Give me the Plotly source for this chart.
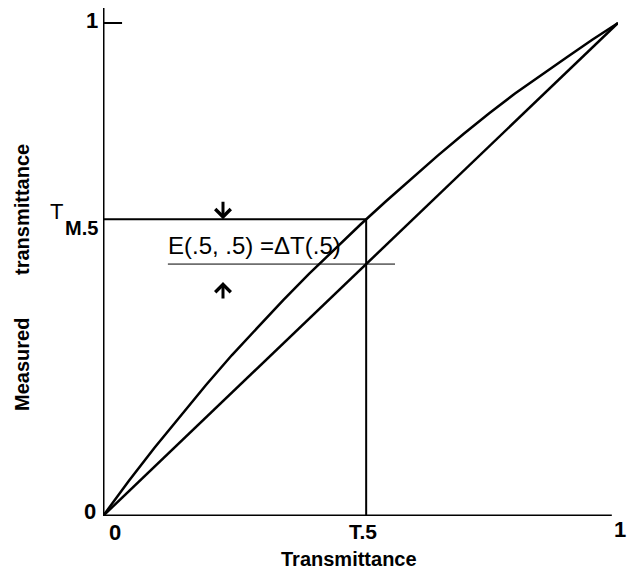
import plotly.graph_objects as go

# Data
transmittance = [0.0, 0.05, 0.1, 0.15, 0.2, 0.25, 0.3, 0.35, 0.4, 0.45, 0.5,
                 0.55, 0.6, 0.65, 0.7, 0.75, 0.8, 0.85, 0.9, 0.95, 1.0]
measured = [0.0, 0.071, 0.1385, 0.203, 0.2657, 0.326, 0.3828, 0.438, 0.491, 0.542, 0.5913,
            0.639, 0.686, 0.731, 0.775, 0.817, 0.857, 0.894, 0.930, 0.966, 1.0]
diag_x = [0.0, 1.0]
diag_y = [0.0, 1.0]
t_mark = 0.511          # position of T.5 marker
tm_mark = 0.602         # measured transmittance at T.5
true_mark = 0.511       # diagonal value at T.5

FONT = "Liberation Sans, Arial, sans-serif"
fig = go.Figure()

fig.add_trace(go.Scatter(x=transmittance, y=measured, mode="lines",
                         line=dict(color="black", width=2.5),
                         hoverinfo="skip", showlegend=False))
fig.add_trace(go.Scatter(x=diag_x, y=diag_y, mode="lines",
                         line=dict(color="black", width=2.5),
                         hoverinfo="skip", showlegend=False))
# marker lines
fig.add_trace(go.Scatter(x=[0, t_mark, t_mark], y=[tm_mark, tm_mark, 0], mode="lines",
                         line=dict(color="black", width=2),
                         hoverinfo="skip", showlegend=False))
fig.add_trace(go.Scatter(x=[0.126, 0.567], y=[true_mark, true_mark], mode="lines",
                         line=dict(color="black", width=1),
                         hoverinfo="skip", showlegend=False))

shapes = [
    dict(type="line", xref="x", yref="y", x0=0, x1=0, y0=-0.006, y1=1.0304,
         line=dict(color="black", width=3)),
    dict(type="line", xref="x", yref="y", x0=-0.006, x1=0.988, y0=0, y1=0,
         line=dict(color="black", width=3)),
    dict(type="line", xref="x", yref="y", x0=0, x1=0.037, y0=1, y1=1,
         line=dict(color="black", width=2)),
]

def px(x):
    return (x - 103) / 515.0

def py(y):
    return (516 - y) / 508.0

def ann(text, x, y, size, bold=True, angle=0, xanchor="center"):
    return dict(text=("<b>%s</b>" % text) if bold else text, x=px(x), y=py(y),
                xref="paper", yref="paper",
                showarrow=False, xanchor=xanchor, yanchor="middle", textangle=angle,
                font=dict(family=FONT, size=size, color="black"))

annotations = [
    ann("1", 92, 21, 22),
    ann("0", 90, 511, 22),
    ann("0", 115, 532, 22),
    ann("T.5", 363, 531, 21),
    ann("1", 628, 529, 22, xanchor="right"),
    ann("Transmittance", 349, 559, 20),
    ann("T", 56, 212, 22, bold=False),
    ann("M.5", 81, 228, 20),
    ann("E(.5, .5) =ΔT(.5)", 254, 246, 24, bold=False),
    ann("Measured", 22, 365, 20, angle=-90),
    ann("transmittance", 22, 210, 20, angle=-90),
    dict(x=(223 - 103) / 515.0, y=tm_mark, xref="x", yref="y", ax=0, ay=-19, showarrow=True,
         arrowhead=4, arrowwidth=3, arrowsize=1.0, arrowcolor="black", text="", standoff=0),
    dict(x=(223 - 103) / 515.0, y=(516 - 282) / 493.0, xref="x", yref="y", ax=0, ay=18,
         showarrow=True, arrowhead=4, arrowwidth=3, arrowsize=1.0, arrowcolor="black",
         text="", standoff=0),
]

fig.update_layout(
    width=628, height=578,
    margin=dict(l=103, r=10, t=8, b=62),
    paper_bgcolor="white", plot_bgcolor="white",
    xaxis=dict(range=[0, 1], visible=False, fixedrange=True),
    yaxis=dict(range=[0, 1.0304], visible=False, fixedrange=True),
    shapes=shapes, annotations=annotations,
    showlegend=False,
)

fig.write_html("out.html")
